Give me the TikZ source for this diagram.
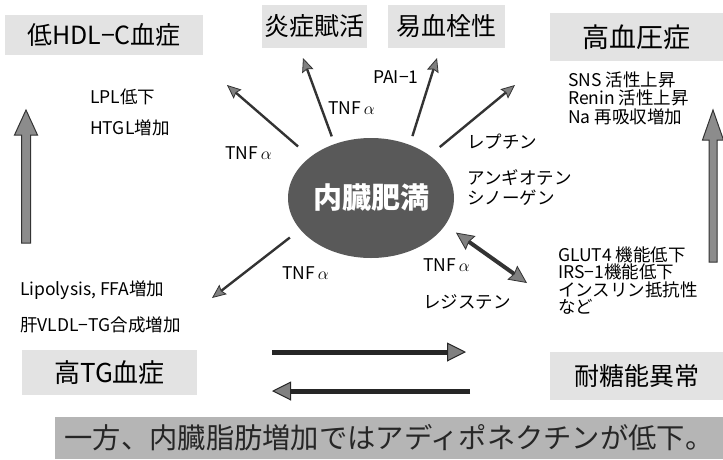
\documentclass[tikz,border=0pt]{standalone}
\usepackage{fontspec}
\setmainfont{Noto Sans CJK JP}
\usetikzlibrary{arrows.meta,shapes.geometric}
\tikzset{
  headbox/.style={fill=gray!22, inner sep=0pt, font=\fontsize{25}{25}\selectfont},
  small/.style={anchor=west, inner sep=0pt, font=\fontsize{17.5}{18}\selectfont},
  thinarr/.style={draw=black!80, line width=2.4pt,
    -{Stealth[length=14pt,width=12pt,inset=2pt,fill=black!50,line width=0.8pt]}},
  dblarr/.style={draw=black!80, line width=4pt,
    {Stealth[length=18pt,width=17pt,inset=2pt,fill=black!50,line width=0.8pt]}-{Stealth[length=18pt,width=17pt,inset=2pt,fill=black!50,line width=0.8pt]}},
  horarr/.style={draw=black!85, line width=5pt,
    -{Triangle[length=19pt,width=19pt,fill=black!50,line width=1pt]}},
  bigarr/.style={draw=black!80, fill=black!45, line width=1pt, line join=miter},
}
\begin{document}
\begin{tikzpicture}[x=1pt,y=-1pt]
\useasboundingbox (0,0) rectangle (723,459);

% heading boxes
\node[headbox, minimum width=198pt, minimum height=40pt] (hdl) at (104,35) {低HDL−C血症};
\node[headbox, minimum width=105pt, minimum height=43pt] (ens) at (314.5,26.5) {炎症賦活};
\node[headbox, minimum width=117pt, minimum height=43pt] (kes) at (446.5,26.5) {易血栓性};
\node[headbox, minimum width=173pt, minimum height=48pt, font=\fontsize{27}{27}\selectfont] (hbp) at (636.5,37) {高血圧症};
\node[headbox, minimum width=175pt, minimum height=45pt, font=\fontsize{26}{26}\selectfont] (htg) at (109.5,372.5) {高TG血症};
\node[headbox, minimum width=173pt, minimum height=48pt] (igt) at (636.5,376) {耐糖能異常};

% bottom banner
\node[fill=gray!58, inner sep=0pt, minimum width=668pt, minimum height=42pt,
      text=black!85, font=\fontsize{28.3}{28.3}\selectfont] (banner) at (389,438)
      {一方、内臓脂肪増加ではアディポネクチンが低下。};

% central ellipse
\node[ellipse, fill=black!65, minimum width=166pt, minimum height=120pt, inner sep=0pt,
      text=white, font=\fontsize{29}{29}\selectfont\bfseries] (ell) at (371,198) {内臓肥満};

% arrow targets
\coordinate (t1) at (227,85);
\coordinate (t2) at (303,58);
\coordinate (t3) at (437,58);
\coordinate (t4) at (515,85);
\coordinate (t5) at (212,298);
\coordinate (t6) at (527,283);

\draw[thinarr, shorten <=16pt] (ell.146) -- (t1);
\draw[thinarr, shorten <=8pt] (ell.124) -- (t2);
\draw[thinarr, shorten <=9pt] (ell.54) -- (t3);
\draw[thinarr, shorten <=13pt] (ell.36) -- (t4);
\draw[thinarr, shorten <=13pt] (ell.204) -- (t5);
\draw[dblarr, shorten <=13pt] (ell.-20) -- (t6);

% horizontal arrows
\coordinate (ha1) at (272,352);
\coordinate (hb1) at (466,352);
\coordinate (ha2) at (470,391);
\coordinate (hb2) at (272,391);
\draw[horarr] (ha1) -- (hb1);
\draw[horarr] (ha2) -- (hb2);

% big vertical arrows
\draw[bigarr] (21.5,243) -- (21.5,135) -- (14.5,135) -- (26,110) -- (37.5,135) -- (30.5,135) -- (30.5,243) -- cycle;
\draw[bigarr] (709,262) -- (709,140) -- (702.5,140) -- (713,110) -- (723.5,140) -- (717,140) -- (717,262) -- cycle;

% labels
\node[small] (lpl) at (90,97) {LPL低下};
\node[small] (htgl) at (90,128) {HTGL増加};
\node[small] (tnf1) at (225,153) {TNF$\,\alpha$};
\node[small] (tnf2) at (328,108) {TNF$\,\alpha$};
\node[small] (pai) at (373,77) {PAI−1};
\node[small] (lep) at (467,142) {レプチン};
\node[small] (ang1) at (467,178) {アンギオテン};
\node[small] (ang2) at (467,198) {シノーゲン};
\node[small] (tnf3) at (423,265) {TNF$\,\alpha$};
\node[small] (res) at (423,302) {レジステン};
\node[small] (tnf4) at (282,273) {TNF$\,\alpha$};
\node[small] (lip) at (20,290) {Lipolysis, FFA増加};
\node[small] (vldl) at (20,325) {肝VLDL−TG合成増加};
\node[small] (sns) at (568,80) {SNS 活性上昇};
\node[small] (ren) at (568,98) {Renin 活性上昇};
\node[small] (na) at (568,117) {Na 再吸収増加};
\node[small] (glut) at (558,255) {GLUT4 機能低下};
\node[small] (irs) at (558,272) {IRS−1機能低下};
\node[small] (ins) at (558,290) {インスリン抵抗性};
\node[small] (nado) at (558,307) {など};
\end{tikzpicture}
\end{document}
